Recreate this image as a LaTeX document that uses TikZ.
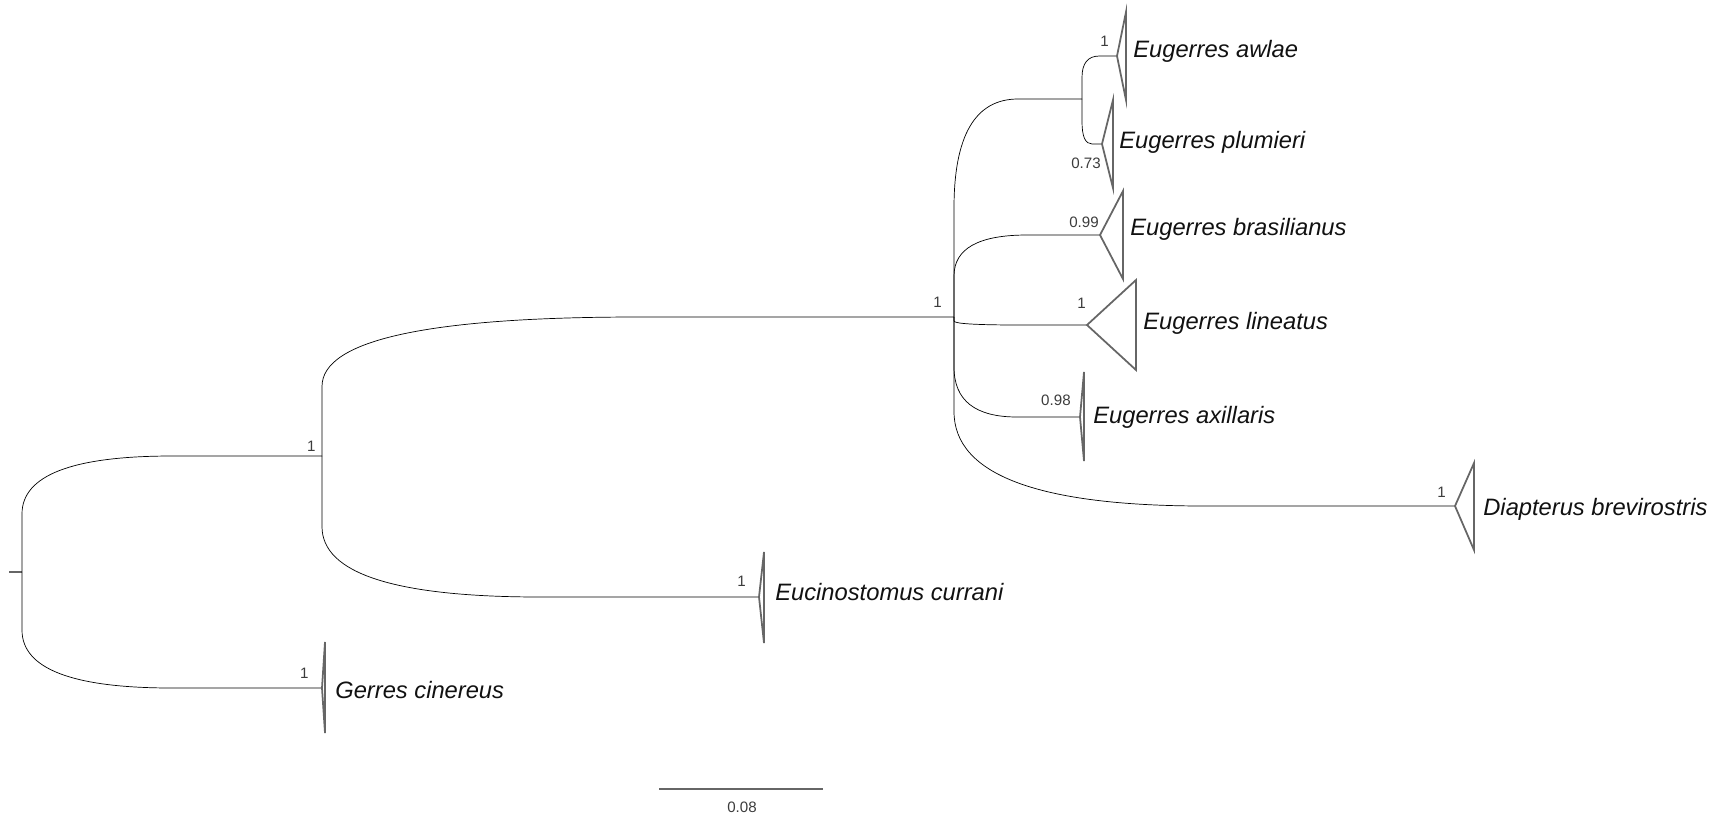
\documentclass[tikz,border=0pt]{standalone}
\usepackage{fontspec}
\setmainfont{Liberation Sans}
\usepackage{tikz}
\usetikzlibrary{calc}
\definecolor{branchgray}{HTML}{666666}
\definecolor{suptext}{HTML}{3C3C3C}
\definecolor{taxtext}{HTML}{111111}

\begin{document}
\begin{tikzpicture}[x=0.02cm,y=-0.02cm,
  br/.style={draw=branchgray,line width=1pt},
  branch/.style={br,to path={let \p1=(\tikztostart),\p2=(\tikztotarget) in
    -- (\x1,{(\y1+\y2)/2}) .. controls (\x1,{(\y1+5*\y2)/6}) and ({(5*\x1+\x2)/6},\y2) .. ({(\x1+\x2)/2},\y2) -- (\tikztotarget)}},
  clade/.style={br,line join=miter},
  taxon/.style={anchor=base west,inner sep=0pt,text=taxtext,font=\fontsize{13.5}{16}\selectfont\itshape},
  sup/.style={anchor=base east,inner sep=0pt,text=suptext,font=\fontsize{8.6}{10}\selectfont},
  scalelab/.style={anchor=base,inner sep=0pt,text=suptext,font=\fontsize{8.6}{10}\selectfont}]
\useasboundingbox (0,0) rectangle (1715,816);
% internal nodes
\coordinate (root) at (22,572);
\coordinate (stub) at (9,572);
\coordinate (n1) at (322,456);
\coordinate (eug) at (954,317);
\coordinate (awpl) at (1082,99);
% collapsed clades (apex)
\coordinate (awlae) at (1117,56);
\coordinate (plumieri) at (1102,144);
\coordinate (brasil) at (1100,235);
\coordinate (lineatus) at (1087,325);
\coordinate (axill) at (1080,417);
\coordinate (diapt) at (1455,506);
\coordinate (eucin) at (759,597);
\coordinate (gerres) at (322,688);
% branches
\draw[br] (stub) -- (root);
\draw (root) to[branch] (n1);
\draw (root) to[branch] (gerres);
\draw (n1) to[branch] (eug);
\draw (n1) to[branch] (eucin);
\draw (eug) to[branch] (awpl);
\draw (eug) to[branch] (brasil);
\draw (eug) to[branch] (lineatus);
\draw (eug) to[branch] (axill);
\draw (eug) to[branch] (diapt);
\draw (awpl) to[branch] (awlae);
\draw (awpl) to[branch] (plumieri);
% triangles
\draw[clade] (awlae) -- ++(9,-44) -- ++(0,88) -- cycle;
\draw[clade] (plumieri) -- ++(11,-44) -- ++(0,88) -- cycle;
\draw[clade] (brasil) -- ++(23,-44) -- ++(0,88) -- cycle;
\draw[clade] (lineatus) -- ++(49,-45) -- ++(0,90) -- cycle;
\draw[clade] (axill) -- ++(4,-45) -- ++(0,89) -- cycle;
\draw[clade] (diapt) -- ++(19,-43) -- ++(0,87) -- cycle;
\draw[clade] (eucin) -- ++(5,-45) -- ++(0,91) -- cycle;
\draw[clade] (gerres) -- ++(3,-46) -- ++(0,91) -- cycle;
% taxon names
\node[taxon] (awlae-lab) at (1133,57) {Eugerres awlae};
\node[taxon] (plumieri-lab) at (1119,148) {Eugerres plumieri};
\node[taxon] (brasil-lab) at (1130,235) {Eugerres brasilianus};
\node[taxon] (lineatus-lab) at (1143,329) {Eugerres lineatus};
\node[taxon] (axill-lab) at (1093,423) {Eugerres axillaris};
\node[taxon] (diapt-lab) at (1483,515) {Diapterus brevirostris};
\node[taxon] (eucin-lab) at (775,600) {Eucinostomus currani};
\node[taxon] (gerres-lab) at (335,698) {Gerres cinereus};
% posterior probabilities
\node[sup] (n1-pp) at (316,451) {1};
\node[sup] (eug-pp) at (942,307) {1};
\node[sup] (awlae-pp) at (1109,46) {1};
\node[sup] (plumieri-pp) at (1101,168) {0.73};
\node[sup] (brasil-pp) at (1099,227) {0.99};
\node[sup] (lineatus-pp) at (1086,308) {1};
\node[sup] (axill-pp) at (1071,405) {0.98};
\node[sup] (diapt-pp) at (1446,497) {1};
\node[sup] (eucin-pp) at (746,586) {1};
\node[sup] (gerres-pp) at (309,678) {1};
% scale bar
\coordinate (sb-l) at (659,789);
\coordinate (sb-r) at (823,789);
\draw[br] (sb-l) -- (sb-r);
\node[scalelab] (sb-lab) at (742,812) {0.08};
\end{tikzpicture}
\end{document}
